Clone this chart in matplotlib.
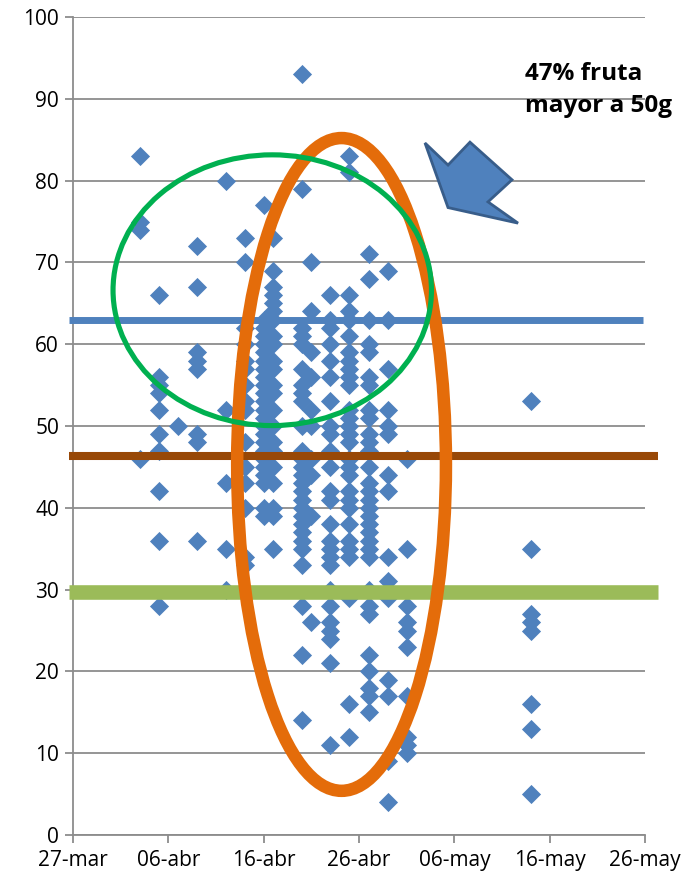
import matplotlib
matplotlib.use('Agg')
import matplotlib.pyplot as plt
import matplotlib.dates as mdates
from matplotlib.patches import Ellipse, Polygon

plt.rcParams['font.family'] = ['Open Sans', 'DejaVu Sans']

## data
fechas = ['2013-04-03', '2013-04-05', '2013-04-07', '2013-04-09', '2013-04-12',
          '2013-04-14', '2013-04-16', '2013-04-17', '2013-04-20', '2013-04-21',
          '2013-04-23', '2013-04-25', '2013-04-27', '2013-04-29', '2013-05-01',
          '2013-05-14']
pesos = [
    [83, 75, 74, 46],
    [66, 56, 55, 54, 52, 49, 47, 42, 36, 28],
    [50],
    [72, 67, 59, 58, 57, 49, 48, 36],
    [80, 52, 43, 35, 30],
    [73, 70, 62, 60, 58, 57, 55, 53, 52, 48, 45, 43, 40, 34, 33],
    [77, 63, 62, 61, 60, 59, 58, 57, 56, 55, 54, 53, 52, 51, 50, 49, 48, 47, 46,
     45, 44, 43, 40, 39],
    [73, 69, 67, 66, 65, 64, 63, 61, 60, 58, 57, 55, 54, 52, 50, 48, 47, 45, 43,
     40, 39, 35],
    [93, 79, 62, 61, 60, 57, 55, 54, 53, 50, 47, 46, 45, 44, 43, 42, 41, 40, 39,
     38, 37, 36, 35, 33, 28, 22, 14],
    [70, 64, 59, 56, 52, 50, 46, 44, 39, 26],
    [66, 63, 62, 60, 58, 56, 53, 50, 49, 47, 45, 42, 41, 38, 36, 35, 34, 33, 30,
     28, 26, 25, 24, 21, 11],
    [83, 81, 66, 64, 63, 61, 59, 58, 57, 56, 55, 52, 51, 50, 49, 48, 46, 45, 44,
     42, 41, 40, 38, 36, 35, 34, 29, 16, 12],
    [71, 68, 63, 60, 59, 56, 55, 52, 51, 49, 48, 47, 45, 43, 42, 41, 40, 39, 38,
     37, 36, 35, 34, 30, 28, 27, 22, 20, 18, 17, 15],
    [69, 63, 57, 52, 50, 49, 44, 42, 34, 31, 29, 19, 17, 9, 4],
    [46, 35, 28, 26, 25, 23, 17, 12, 11, 10],
    [53, 35, 27, 26, 25, 16, 13, 5],
]
tick_fechas = ['2013-03-27', '2013-04-06', '2013-04-16', '2013-04-26',
               '2013-05-06', '2013-05-16', '2013-05-26']
tick_labels = ['27-mar', '06-abr', '16-abr', '26-abr', '06-may', '16-may', '26-may']
limites = [63, 46.3, 29.7]
limite_colores = ['#4F81BD', '#984807', '#9BBB59']
texto = '47% fruta\nmayor a 50g'

## figure
fig = plt.figure(figsize=(6.9, 8.85), dpi=100)
ax = fig.add_axes([73/690, 1-835/885, 572/690, 818/885])

x0 = mdates.datestr2num(tick_fechas[0])
xs, ys = [], []
for f, vals in zip(fechas, pesos):
    d = mdates.datestr2num(f)
    xs += [d]*len(vals)
    ys += vals
ax.scatter(xs, ys, marker='D', s=95, color='#4F81BD', linewidths=0, zorder=3)

# horizontal reference lines (drawn shapes, a bit past the axes)
ends = [59.8, 61.4, 61.4]
widths = [5, 5.8, 10.5]
for v, c, e, w in zip(limites, limite_colores, ends, widths):
    ax.plot([x0-0.4, x0+e], [v, v], color=c, lw=w, solid_capstyle='butt',
            clip_on=False, zorder=4)

# ellipses
ax.add_patch(Ellipse((x0+28.17, 45.3), 21.9, 79.8, fill=False,
                     edgecolor='#E46C0A', lw=9, zorder=5))
ax.add_patch(Ellipse((x0+20.9, 66.6), 33.4, 33.1, fill=False,
                     edgecolor='#00B050', lw=3.7, zorder=6))

# arrow
flecha = [(36.92, 84.6), (39.34, 81.9), (41.64, 84.7), (46.05, 80.1),
          (43.53, 77.4), (46.68, 74.8), (39.34, 76.7)]
ax.add_patch(Polygon([(x0+a, b) for a, b in flecha], closed=True,
                     facecolor='#4F81BD', edgecolor='#385D8A', lw=2,
                     joinstyle='miter', zorder=7))

fig.text(525/690, 1-62/885, texto, ha='left', va='top', fontsize=17.5,
         fontweight='bold', linespacing=1.45)

## axes style
ax.set_xlim(x0, mdates.datestr2num(tick_fechas[-1]))
ax.set_ylim(0, 100)
ax.set_xticks([mdates.datestr2num(t) for t in tick_fechas])
ax.set_xticklabels(tick_labels)
ax.set_yticks(range(0, 101, 10))
ax.grid(axis='y', color='#8C8C8C', lw=1.3)
ax.set_axisbelow(True)
for s in ['top', 'right']:
    ax.spines[s].set_visible(False)
for s in ['left', 'bottom']:
    ax.spines[s].set_color('#8C8C8C')
    ax.spines[s].set_linewidth(1.3)
ax.tick_params(axis='both', colors='#8C8C8C', width=1.3, length=6,
               labelcolor='black', labelsize=15)
ax.tick_params(axis='x', pad=5)
ax.tick_params(axis='y', pad=4)

fig.savefig('out.png', dpi=100)
